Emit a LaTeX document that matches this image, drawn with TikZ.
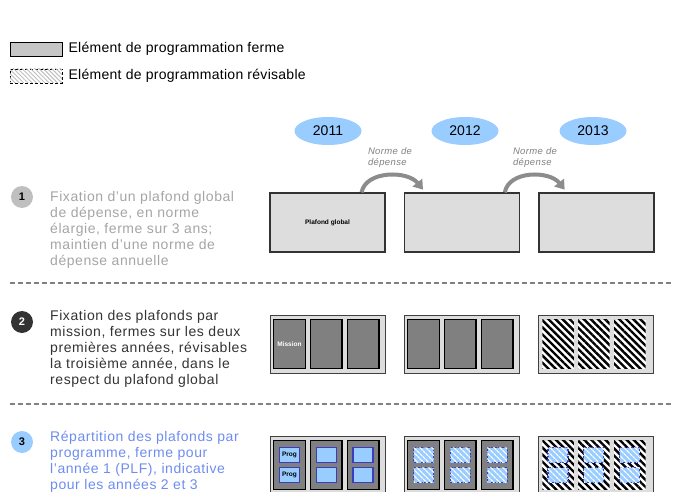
\documentclass[tikz,border=0pt]{standalone}
\usepackage{fontspec}
\setmainfont{Liberation Sans}
\usepackage{xcolor}
\usetikzlibrary{shapes,positioning,calc}
\usetikzlibrary{patterns.meta,arrows.meta}
\definecolor{yearblue}{RGB}{153,204,255}
\definecolor{boxgray}{RGB}{221,221,221}
\definecolor{cellgray}{RGB}{128,128,128}
\definecolor{textgray}{RGB}{165,165,165}
\definecolor{textdark}{RGB}{51,51,51}
\definecolor{textblue}{RGB}{110,140,240}
\definecolor{progline}{RGB}{60,60,190}

\begin{document}
\begin{tikzpicture}[x=1pt,y=-1pt,node distance=4pt,
	year/.style={ellipse,fill=yearblue,minimum width=67pt,minimum height=28pt,inner sep=0pt,font=\fontsize{14}{16}\selectfont},
	numcircle/.style={circle,minimum size=22pt,inner sep=0pt,font=\bfseries\fontsize{11}{13}\selectfont},
	rowtext/.style={align=left,anchor=north west,inner sep=0pt,font=\fontsize{14}{16}\selectfont\addfontfeatures{LetterSpace=4}},
	legtext/.style={inner sep=0pt,font=\fontsize{14}{16}\selectfont\addfontfeatures{LetterSpace=2}},
	legferme/.style={draw=black,line width=0.8pt,fill=gray!45,minimum width=52pt,minimum height=14pt,inner sep=0pt},
	legrevis/.style={draw=black,line width=0.8pt,dash pattern=on 3pt off 2pt,fill=white,minimum width=52pt,minimum height=14pt,inner sep=0pt,
		postaction={pattern={Lines[angle=-45,distance=3pt,line width=1pt]},pattern color=gray!50}},
	norme/.style={align=left,inner sep=0pt,text=gray,font=\itshape\fontsize{9.5}{11}\selectfont\addfontfeatures{LetterSpace=4}},
	normearrow/.style={draw=gray!90,line width=4pt,-{Triangle[length=9pt,width=12pt]},shorten >=1pt},
	plafond/.style={draw=black!80,line width=1.2pt,fill=boxgray,minimum width=115pt,minimum height=59pt,inner sep=0pt,font=\bfseries\fontsize{6.5}{7}\selectfont},
	frame/.style={draw=black!75,line width=1pt,fill=boxgray,minimum width=115pt,minimum height=58pt,inner sep=0pt},
	mission/.style={draw=black,line width=1.3pt,fill=cellgray,minimum width=31.5pt,minimum height=49pt,inner sep=0pt,text=white,font=\bfseries\fontsize{6.5}{7}\selectfont},
	revis/.style={fill=white,minimum width=31.5pt,minimum height=49pt,inner sep=0pt,
		postaction={pattern={Lines[angle=-45,distance=5pt,line width=2.4pt]},pattern color=black}},
	prog/.style={draw=progline,line width=1.3pt,fill=yearblue,minimum width=20pt,minimum height=15pt,inner sep=0pt,font=\bfseries\fontsize{6.5}{7}\selectfont},
	progrev/.style={draw=progline,line width=1.1pt,dash pattern=on 2pt off 1.5pt,fill=yearblue,minimum width=20pt,minimum height=15pt,inner sep=0pt,
		postaction={pattern={Lines[angle=-45,distance=4pt,line width=1.4pt]},pattern color=white}},
	sepline/.style={draw=gray,line width=1.2pt,dash pattern=on 5pt off 3pt}]
	\useasboundingbox (0,0) rectangle (674,492);
	\clip (0,0) rectangle (674,492);
	
	% legende
	\node[legferme] (legf) at (36,49) {};
	\node[legtext,right=6pt of legf] (legft) {Elément de programmation ferme};
	\node[legrevis] (legr) at (36,76) {};
	\node[legtext,right=6pt of legr] (legrt) {Elément de programmation révisable};
	
	% annees
	\node[year] (y1) at (328,131) {2011};
	\node[year] (y2) at (465,131) {2012};
	\node[year] (y3) at (593,131) {2013};
	
	% etape 1
	\node[numcircle,fill=gray!50] (n1) at (22,197) {1};
	\node[rowtext,text=textgray] (t1) at (50,191) {Fixation d'un plafond global\\de dépense, en norme\\élargie, ferme sur 3 ans;\\maintien d'une norme de\\dépense annuelle};
	\node[plafond] (b11) at (327.5,222.5) {Plafond global};
	\node[plafond,right=18pt of b11] (b12) {};
	\node[plafond,right=18.5pt of b12] (b13) {};
	\node[norme] (nd1) at (390,158) {Norme de\\dépense};
	\node[norme] (nd2) at (535,158) {Norme de\\dépense};
	\coordinate (a1s) at ($(b11.north east)+(-24,0)$);
	\coordinate (a1e) at ($(b12.north west)+(20,-2)$);
	\coordinate (a2s) at ($(b12.north east)+(-15,0)$);
	\coordinate (a2e) at ($(b13.north west)+(27,-2)$);
	\draw[normearrow] (a1s) .. controls +(4,-22) and +(-16,-20) .. (a1e);
	\draw[normearrow] (a2s) .. controls +(4,-22) and +(-16,-20) .. (a2e);
	
	\coordinate (s1w) at (10,283);
	\coordinate (s1e) at (674,283);
	\draw[sepline] (s1w) -- (s1e);
	
	% etape 2
	\node[numcircle,fill=textdark,text=white] (n2) at (22,322) {2};
	\node[rowtext,text=textdark] (t2) at (50,310) {Fixation des plafonds par\\mission, fermes sur les deux\\premières années, révisables\\la troisième année, dans le\\respect du plafond global};
	\node[frame] (f21) at (327.5,344) {};
	\node[frame,right=18pt of f21] (f22) {};
	\node[frame,right=18.5pt of f22] (f23) {};
	\node[mission] (c211) at ($(f21.west)+(20,0)$) {Mission};
	\node[mission,right=of c211] (c212) {};
	\node[mission,right=of c212] (c213) {};
	\node[mission] (c221) at ($(f22.west)+(20,0)$) {};
	\node[mission,right=of c221] (c222) {};
	\node[mission,right=of c222] (c223) {};
	\node[revis] (c231) at ($(f23.west)+(20,0)$) {};
	\node[revis,right=of c231] (c232) {};
	\node[revis,right=of c232] (c233) {};
	
	\coordinate (s2w) at (10,404);
	\coordinate (s2e) at (674,404);
	\draw[sepline] (s2w) -- (s2e);
	
	% etape 3
	\node[numcircle,fill=yearblue] (n3) at (22,442) {3};
	\node[rowtext,text=textblue] (t3) at (50,431) {Répartition des plafonds par\\programme, ferme pour\\l'année 1 (PLF), indicative\\pour les années 2 et 3};
	\node[frame] (f31) at (327.5,465) {};
	\node[frame,right=18pt of f31] (f32) {};
	\node[frame,right=18.5pt of f32] (f33) {};
	\node[mission] (c311) at ($(f31.west)+(20,0)$) {};
	\node[mission,right=of c311] (c312) {};
	\node[mission,right=of c312] (c313) {};
	\node[mission] (c321) at ($(f32.west)+(20,0)$) {};
	\node[mission,right=of c321] (c322) {};
	\node[mission,right=of c322] (c323) {};
	\node[revis] (c331) at ($(f33.west)+(20,0)$) {};
	\node[revis,right=of c331] (c332) {};
	\node[revis,right=of c332] (c333) {};
	\node[prog] (p311) at ($(c311)+(0,-10)$) {Prog};
	\node[prog] (p312) at ($(c311)+(0,10)$) {Prog};
	\node[prog] (p313) at ($(c312)+(0,-10)$) {};
	\node[prog] (p314) at ($(c312)+(0,10)$) {};
	\node[prog] (p315) at ($(c313)+(0,-10)$) {};
	\node[prog] (p316) at ($(c313)+(0,10)$) {};
	\node[progrev] (p321) at ($(c321)+(0,-10)$) {};
	\node[progrev] (p322) at ($(c321)+(0,10)$) {};
	\node[progrev] (p323) at ($(c322)+(0,-10)$) {};
	\node[progrev] (p324) at ($(c322)+(0,10)$) {};
	\node[progrev] (p325) at ($(c323)+(0,-10)$) {};
	\node[progrev] (p326) at ($(c323)+(0,10)$) {};
	\node[progrev] (p331) at ($(c331)+(0,-10)$) {};
	\node[progrev] (p332) at ($(c331)+(0,10)$) {};
	\node[progrev] (p333) at ($(c332)+(0,-10)$) {};
	\node[progrev] (p334) at ($(c332)+(0,10)$) {};
	\node[progrev] (p335) at ($(c333)+(0,-10)$) {};
	\node[progrev] (p336) at ($(c333)+(0,10)$) {};
\end{tikzpicture}
\end{document}
